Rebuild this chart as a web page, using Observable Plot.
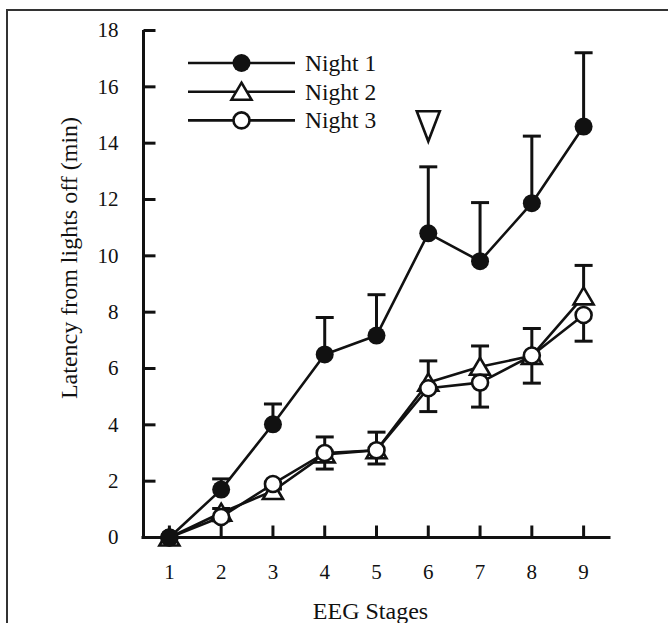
<!DOCTYPE html>
<html>
<head>
<meta charset="utf-8">
<script src="https://cdn.jsdelivr.net/npm/d3@7"></script>
<script src="https://cdn.jsdelivr.net/npm/@observablehq/plot@0.6"></script>
<style>
  html, body { margin: 0; padding: 0; background: #fff; overflow: hidden; }
  #wrap { position: relative; width: 668px; height: 623px; overflow: hidden; }
  #border { position: absolute; left: 6px; top: 9px; width: 800px; height: 800px;
            border-top: 2px solid #333; border-left: 2px solid #333; pointer-events: none; }
  #chart, #legend { position: absolute; left: 0; top: 0; }
  svg text { font-family: "Liberation Serif", "DejaVu Serif", serif; }
</style>
</head>
<body>
<div id="wrap"><div id="border"></div><div id="chart"></div><div id="legend"></div></div>
<script>
// ---- data ----
const stages = [1, 2, 3, 4, 5, 6, 7, 8, 9];
const seriesNames = ["Night 1", "Night 2", "Night 3"];
const night1 = [0, 1.70, 4.02, 6.50, 7.17, 10.80, 9.81, 11.87, 14.59];
const night1ErrUp = [0, 0.38, 0.72, 1.31, 1.45, 2.36, 2.08, 2.38, 2.62];
const night2 = [0, 0.88, 1.65, 2.95, 3.10, 5.50, 6.06, 6.45, 8.56];
const night2ErrUp = [0, 0.15, 0.18, 0.62, 0.64, 0.77, 0.74, 0.97, 1.10];
const night3 = [0, 0.73, 1.90, 3.00, 3.10, 5.30, 5.50, 6.46, 7.90];
const night3ErrDown = [0, 0.14, 0.18, 0.57, 0.49, 0.83, 0.87, 0.98, 0.93];
const marker = [{stage: 6, value: 14.6}];
const yTicks = [0, 2, 4, 6, 8, 10, 12, 14, 16, 18];
const xTitle = "EEG Stages";
const yTitle = "Latency from lights off (min)";

const font = "'Liberation Serif', 'DejaVu Serif', serif";

const rows = [];
stages.forEach((s, i) => {
  rows.push({stage: s, night: "Night 1", value: night1[i], lo: night1[i], hi: night1[i] + night1ErrUp[i]});
  rows.push({stage: s, night: "Night 2", value: night2[i], lo: night2[i], hi: night2[i] + night2ErrUp[i]});
  rows.push({stage: s, night: "Night 3", value: night3[i], lo: night3[i] - night3ErrDown[i], hi: night3[i]});
});
const bars = rows.filter(d => d.hi - d.lo > 0.01);
const capsHi = bars.filter(d => d.night !== "Night 3").map(d => ({stage: d.stage, v: d.hi}));
const capsLo = bars.filter(d => d.night === "Night 3").map(d => ({stage: d.stage, v: d.lo}));
const caps = capsHi.concat(capsLo);

// custom symbols
const capSym = {draw(c) { c.moveTo(-9, 0); c.lineTo(9, 0); }};
const yTickSym = {draw(c) { c.moveTo(0, 0); c.lineTo(12, 0); }};
const xTickSym = {draw(c) { c.moveTo(0, 0); c.lineTo(0, -12); }};
const triUp = {draw(c) { c.moveTo(0, -9); c.lineTo(10, 8); c.lineTo(-10, 8); c.closePath(); }};
const triDown = {draw(c) { c.moveTo(-11.5, -15); c.lineTo(11.5, -15); c.lineTo(0, 15); c.closePath(); }};

const byNight = n => rows.filter(d => d.night === n);

const chart = Plot.plot({
  width: 668, height: 623,
  marginLeft: 143, marginRight: 59, marginTop: 30, marginBottom: 86,
  style: {fontFamily: font, fontSize: "20px", color: "#111", background: "transparent"},
  x: {domain: [0.5, 9.5]},
  y: {domain: [0, 18]},
  marks: [
    Plot.axisY({ticks: yTicks, tickSize: 0, tickPadding: 25, fontSize: 21, label: null, fill: "#111"}),
    Plot.axisX({ticks: stages, tickSize: 0, tickPadding: 27, fontSize: 21, label: null, fill: "#111"}),
    Plot.ruleX([0.5], {stroke: "#111", strokeWidth: 3}),
    Plot.ruleY([0], {stroke: "#111", strokeWidth: 3, strokeLinecap: "square"}),
    Plot.dot(yTicks, {y: d => d, frameAnchor: "left", symbol: yTickSym, stroke: "#111", strokeWidth: 3, fill: "none"}),
    Plot.dot(stages, {x: d => d, frameAnchor: "bottom", symbol: xTickSym, stroke: "#111", strokeWidth: 3, fill: "none"}),
    Plot.text([yTitle], {frameAnchor: "left", textAnchor: "middle", lineAnchor: "middle", rotate: -90, dx: -74, dy: -26, fontSize: 24, fill: "#111"}),
    Plot.text([xTitle], {frameAnchor: "bottom", textAnchor: "middle", lineAnchor: "middle", dx: -6, dy: 74, fontSize: 24, fill: "#111"}),
    // error bars
    Plot.ruleX(bars, {x: "stage", y1: "lo", y2: "hi", stroke: "#111", strokeWidth: 3}),
    Plot.dot(caps, {x: "stage", y: "v", symbol: capSym, stroke: "#111", strokeWidth: 3, fill: "none"}),
    // lines
    Plot.line(byNight("Night 2"), {x: "stage", y: "value", stroke: "#111", strokeWidth: 2.6}),
    Plot.line(byNight("Night 3"), {x: "stage", y: "value", stroke: "#111", strokeWidth: 2.6}),
    Plot.line(byNight("Night 1"), {x: "stage", y: "value", stroke: "#111", strokeWidth: 2.6}),
    // markers
    Plot.dot(byNight("Night 2"), {x: "stage", y: "value", symbol: triUp, fill: "white", stroke: "#111", strokeWidth: 2.6}),
    Plot.dot(byNight("Night 3"), {x: "stage", y: "value", symbol: "circle", r: 8, fill: "white", stroke: "#111", strokeWidth: 2.6}),
    Plot.dot(byNight("Night 1"), {x: "stage", y: "value", symbol: "circle", r: 9, fill: "#111", stroke: "none"}),
    // significance marker
    Plot.dot(marker, {x: "stage", y: "value", symbol: triDown, fill: "white", stroke: "#111", strokeWidth: 2.6})
  ]
});
document.getElementById("chart").appendChild(chart);

// legend overlay
const legendSymbols = [
  d => d.append("circle").attr("r", 9).attr("fill", "#111"),
  d => d.append("path").attr("d", "M0,-9L10,8L-10,8Z").attr("fill", "white").attr("stroke", "#111").attr("stroke-width", 2.6),
  d => d.append("circle").attr("r", 8).attr("fill", "white").attr("stroke", "#111").attr("stroke-width", 2.6)
];
const lsvg = d3.select("#legend").append("svg").attr("width", 668).attr("height", 623);
seriesNames.forEach((name, i) => {
  const g = lsvg.append("g").attr("transform", `translate(0,${63 + i * 28.7})`);
  g.append("line").attr("x1", 188).attr("x2", 295).attr("stroke", "#111").attr("stroke-width", 2.6);
  legendSymbols[i](g.append("g").attr("transform", "translate(241.5,0)"));
  g.append("text").attr("x", 305).attr("y", 8).attr("font-size", 23.5).attr("fill", "#111").text(name);
});
</script>
</body>
</html>
